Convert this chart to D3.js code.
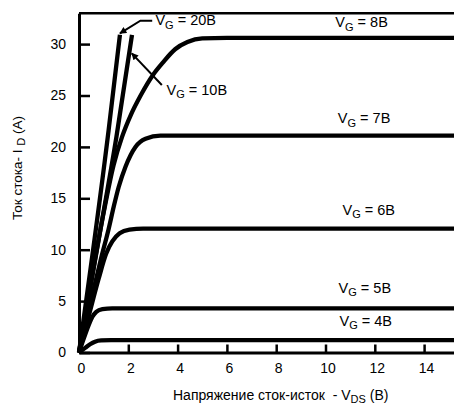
<!DOCTYPE html>
<html>
<head>
<meta charset="utf-8">
<script src="https://cdn.jsdelivr.net/npm/d3@7"></script>
<style>
  body { margin: 0; background: #fff; }
  svg { display: block; font-family: "Liberation Sans", Arial, Helvetica, sans-serif; }
</style>
</head>
<body>
<svg width="454" height="407"></svg>
<script>
// drain current vs drain-source voltage, one curve per gate voltage
var xTicks = [0, 2, 4, 6, 8, 10, 12, 14];
var yTicks = [0, 5, 10, 15, 20, 25, 30];

var vg4 = [[0,0],[0.25,0.45],[0.45,0.8],[0.65,1.05],[0.9,1.17],[1.3,1.2],[16,1.2]];
var vg5 = [[0,0],[0.2,1.4],[0.4,2.7],[0.55,3.5],[0.7,3.95],[0.95,4.22],[1.35,4.3],[16,4.3]];
var vg6 = [[0,0],[0.4,3.6],[0.8,7.2],[1.1,9.6],[1.35,10.8],[1.65,11.6],[2.05,11.95],[2.6,12.05],[16,12.05]];
var vg7 = [[0,0],[0.5,5.2],[0.9,9.2],[1.2,12.0],[1.41,14.2],[1.61,16.1],[1.89,18.1],[2.29,20.0],[2.7,20.8],[3.3,21.1],[16,21.1]];
var vg8 = [[0,0],[0.5,7],[1.0,13.6],[1.4,18.2],[1.75,21],[2.1,23.1],[2.5,25],[3.0,27],[3.4,28.2],[3.9,29.5],[4.4,30.2],[5.0,30.55],[6,30.6],[16,30.6]];
var vg10 = [[0,0],[0.8,11],[1.52,21],[2.15,30.9]];
var vg20 = [[0,0],[1.2,21.6],[1.66,30.9]];

var curveNames = ["4B", "5B", "6B", "7B", "8B", "10B", "20B"];
var curveData = [vg4, vg5, vg6, vg7, vg8, vg10, vg20];
// label anchor (x, y baseline) in data units
var labelPos = [[10.57,2.58],[10.53,5.8],[10.69,13.38],[10.5,22.3],[10.4,31.66],[3.55,25.05],[3.1,31.85]];

function drawChart()
{
    var svg = d3.select("svg");
    var x0 = 79, y0 = 352.5;
    var xScale = d3.scaleLinear().domain([0, 16]).range([x0, x0 + 16 * 24.65]);
    var yScale = d3.scaleLinear().domain([0, 33]).range([y0, y0 - 33 * 10.28]);

    var defs = svg.append("defs");
    defs.append("marker")
        .attr("id", "arr")
        .attr("viewBox", "0 0 10 10")
        .attr("refX", 9).attr("refY", 5)
        .attr("markerWidth", 8).attr("markerHeight", 7)
        .attr("markerUnits", "userSpaceOnUse")
        .attr("orient", "auto")
        .append("path")
        .attr("d", "M0,0 L10,5 L0,10 Z")
        .attr("fill", "#000");

    // top frame line
    svg.append("line")
        .attr("x1", xScale(0)).attr("x2", xScale(16))
        .attr("y1", yScale(33)).attr("y2", yScale(33))
        .attr("stroke", "#000").attr("stroke-width", 2.5);

    var x_axis = d3.axisBottom(xScale).tickValues(xTicks)
        .tickSizeInner(-8).tickSizeOuter(0).tickPadding(11);
    var y_axis = d3.axisLeft(yScale).tickValues(yTicks)
        .tickSizeInner(-11).tickSizeOuter(0).tickPadding(13);

    var gx = svg.append("g").attr("transform", `translate(0, ${y0})`).call(x_axis);
    var gy = svg.append("g").attr("transform", `translate(${x0}, 0)`).call(y_axis);
    [gx, gy].forEach(function (g) {
        g.select(".domain").attr("stroke-width", 3);
        g.selectAll(".tick line").attr("stroke-width", 2.5);
        g.selectAll(".tick text").attr("font-size", 14).attr("fill", "#000")
            .style("font-family", '"Liberation Sans", Arial, sans-serif');
    });
    gx.selectAll(".tick text").attr("dx", 2);

    var line = d3.line()
        .x(function (d) { return xScale(d[0]); })
        .y(function (d) { return yScale(d[1]); })
        .curve(d3.curveMonotoneX);

    svg.selectAll(".curve")
        .data(curveData)
        .enter()
        .append("path")
        .attr("class", "curve")
        .attr("d", line)
        .attr("fill", "none")
        .attr("stroke", "#000")
        .attr("stroke-width", 4.3);

    // curve labels
    labelPos.forEach(function (p, i) {
        var t = svg.append("text")
            .attr("x", xScale(p[0])).attr("y", yScale(p[1]))
            .attr("font-size", 14.5).attr("fill", "#000");
        t.append("tspan").text("V");
        t.append("tspan").attr("dy", 3.5).attr("font-size", 11).text("G");
        t.append("tspan").attr("dy", -3.5).text(" = " + curveNames[i]);
    });

    // leader arrows for VG = 20B and VG = 10B
    var arrow20 = [[2.97, 32.28], [2.49, 32.28], [1.66, 31.05]];
    var arrow10 = [[3.36, 26.02], [2.14, 29.1]];
    var plain = d3.line()
        .x(function (d) { return xScale(d[0]); })
        .y(function (d) { return yScale(d[1]); });
    [arrow20, arrow10].forEach(function (a) {
        svg.append("path")
            .attr("d", plain(a))
            .attr("fill", "none")
            .attr("stroke", "#000")
            .attr("stroke-width", 2)
            .attr("marker-end", "url(#arr)");
    });

    // axis titles
    var xt = svg.append("text")
        .attr("x", 173).attr("y", 400)
        .attr("font-size", 14).attr("fill", "#000");
    xt.append("tspan").text("Напряжение сток-исток\u00a0\u00a0- V");
    xt.append("tspan").attr("dy", 3).attr("font-size", 11).text("DS");
    xt.append("tspan").attr("dy", -3).text(" (B)");

    var yt = svg.append("text")
        .attr("transform", "translate(22, 168) rotate(-90)")
        .attr("text-anchor", "middle")
        .attr("font-size", 13.5).attr("fill", "#000");
    yt.append("tspan").text("Ток стока- I\u00a0");
    yt.append("tspan").attr("dy", 3).attr("font-size", 11).text("D");
    yt.append("tspan").attr("dy", -3).text("\u00a0(A)");
}

drawChart();
</script>
</body>
</html>
